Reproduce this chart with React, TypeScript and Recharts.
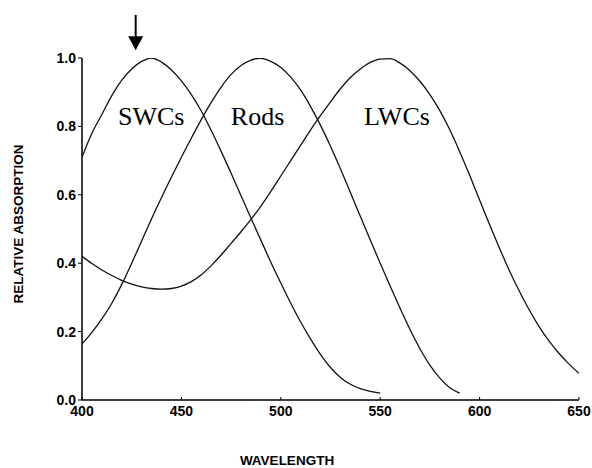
import {
  Label,
  Line,
  LineChart,
  ReferenceDot,
  ReferenceLine,
  XAxis,
  YAxis,
} from "recharts";

// wavelength grid in nm, 5 nm steps
const wavelengths = [
  400, 405, 410, 415, 420, 425, 430, 435, 440, 445, 450, 455, 460, 465, 470, 475, 480,
  485, 490, 495, 500, 505, 510, 515, 520, 525, 530, 535, 540, 545, 550, 555, 560, 565,
  570, 575, 580, 585, 590, 595, 600, 605, 610, 615, 620, 625, 630, 635, 640, 645, 650,
];

// short-wavelength cones (peak ~435 nm)
const swcValues = [
  0.71, 0.78, 0.835, 0.89, 0.935, 0.968, 0.99, 1.0, 0.988, 0.965, 0.933, 0.893, 0.845,
  0.788, 0.727, 0.663, 0.597, 0.532, 0.467, 0.403, 0.342, 0.283, 0.228, 0.178, 0.133,
  0.095, 0.066, 0.046, 0.033, 0.025, 0.02,
];

// rods (peak ~488 nm)
const rodValues = [
  0.164, 0.198, 0.237, 0.283, 0.338, 0.4, 0.465, 0.53, 0.592, 0.652, 0.71, 0.766, 0.82,
  0.87, 0.915, 0.952, 0.978, 0.994, 0.999, 0.99, 0.972, 0.944, 0.906, 0.858, 0.803, 0.742,
  0.676, 0.607, 0.537, 0.468, 0.4, 0.333, 0.268, 0.206, 0.15, 0.102, 0.064, 0.036, 0.02,
];

// long-wavelength cones (peak ~553 nm)
const lwcValues = [
  0.42, 0.399, 0.38, 0.364, 0.35, 0.339, 0.331, 0.326, 0.324, 0.326, 0.333, 0.346, 0.366,
  0.393, 0.424, 0.458, 0.492, 0.528, 0.567, 0.61, 0.655, 0.7, 0.745, 0.79, 0.832, 0.872,
  0.91, 0.943, 0.968, 0.987, 0.997, 0.998, 0.985, 0.963, 0.932, 0.893, 0.846, 0.79, 0.726,
  0.657, 0.585, 0.513, 0.444, 0.378, 0.318, 0.263, 0.214, 0.172, 0.136, 0.105, 0.078,
];

const xTicks = [400, 450, 500, 550, 600, 650];
const yTicks = [0, 0.2, 0.4, 0.6, 0.8, 1.0];

const curveLabels = [
  { text: "SWCs", x: 434.8, y: 0.803 },
  { text: "Rods", x: 488.3, y: 0.803 },
  { text: "LWCs", x: 558.4, y: 0.803 },
];

const ARROW_X = 427;
const ARROW_TOP = 1.126;
const ARROW_TIP = 1.023;

const data = wavelengths.map((w, i) => ({
  w,
  swc: i < swcValues.length ? swcValues[i] : null,
  rods: i < rodValues.length ? rodValues[i] : null,
  lwc: i < lwcValues.length ? lwcValues[i] : null,
}));

const tickFont = {
  fontFamily: "'Liberation Sans', Arial, sans-serif",
  fontWeight: 700,
  fontSize: 14,
  fill: "#000",
};

function YTitle({ viewBox }: { viewBox?: { x: number; y: number; width: number; height: number } }) {
  if (!viewBox) return null;
  const cx = viewBox.x + 18;
  const cy = viewBox.y + viewBox.height / 2 - 5;
  return (
    <text
      x={cx}
      y={cy}
      transform={`rotate(-90 ${cx} ${cy})`}
      textAnchor="middle"
      dominantBaseline="central"
      {...tickFont}
      fontSize={13.5}
    >
      RELATIVE ABSORPTION
    </text>
  );
}

function XTitle({ viewBox }: { viewBox?: { x: number; y: number; width: number; height: number } }) {
  if (!viewBox) return null;
  return (
    <text x={viewBox.x + 205} y={465} textAnchor="middle" {...tickFont} fontSize={13.5}>
      WAVELENGTH
    </text>
  );
}

function ArrowHead({ cx, cy }: { cx?: number; cy?: number }) {
  if (cx == null || cy == null) return null;
  return <polygon points={`${cx - 7.5},${cy - 14} ${cx + 7.5},${cy - 14} ${cx},${cy}`} fill="#000" />;
}

export default function App() {
  return (
    <div style={{ position: "absolute", left: 0, top: 0, width: 592, height: 468, background: "#fff" }}>
      <LineChart width={592} height={468} data={data} margin={{ top: 58, right: 13, bottom: 38, left: 0 }}>
        <XAxis
          dataKey="w"
          type="number"
          domain={[400, 650]}
          ticks={xTicks}
          height={30}
          tick={tickFont}
          tickSize={-3}
          tickMargin={9}
          axisLine={{ stroke: "#000", strokeWidth: 1.5 }}
          tickLine={{ stroke: "#000" }}
          allowDataOverflow
        >
          <Label content={<XTitle />} />
        </XAxis>
        <YAxis
          type="number"
          domain={[0, 1]}
          ticks={yTicks}
          width={82}
          tick={tickFont}
          tickFormatter={(v) => Number(v).toFixed(1)}
          tickSize={4}
          tickMargin={2}
          axisLine={{ stroke: "#000", strokeWidth: 1.5 }}
          tickLine={{ stroke: "#000" }}
          allowDataOverflow
        >
          <Label content={<YTitle />} />
        </YAxis>
        <Line type="monotone" dataKey="swc" stroke="#111" strokeWidth={1.3} dot={false} isAnimationActive={false} />
        <Line type="monotone" dataKey="rods" stroke="#111" strokeWidth={1.3} dot={false} isAnimationActive={false} />
        <Line type="monotone" dataKey="lwc" stroke="#111" strokeWidth={1.3} dot={false} isAnimationActive={false} />
        {curveLabels.map((l) => (
          <ReferenceDot
            key={l.text}
            x={l.x}
            y={l.y}
            ifOverflow="visible"
            shape={(p: { cx?: number; cy?: number }) => (
              <text
                x={p.cx}
                y={p.cy}
                textAnchor="middle"
                fontFamily="'Liberation Serif', 'Times New Roman', serif"
                fontSize={26}
                fill="#000"
              >
                {l.text}
              </text>
            )}
          />
        ))}
        <ReferenceLine
          segment={[
            { x: ARROW_X, y: ARROW_TOP },
            { x: ARROW_X, y: ARROW_TIP + 0.03 },
          ]}
          stroke="#000"
          strokeWidth={2}
          ifOverflow="visible"
        />
        <ReferenceDot x={ARROW_X} y={ARROW_TIP} ifOverflow="visible" shape={<ArrowHead />} />
      </LineChart>
    </div>
  );
}
